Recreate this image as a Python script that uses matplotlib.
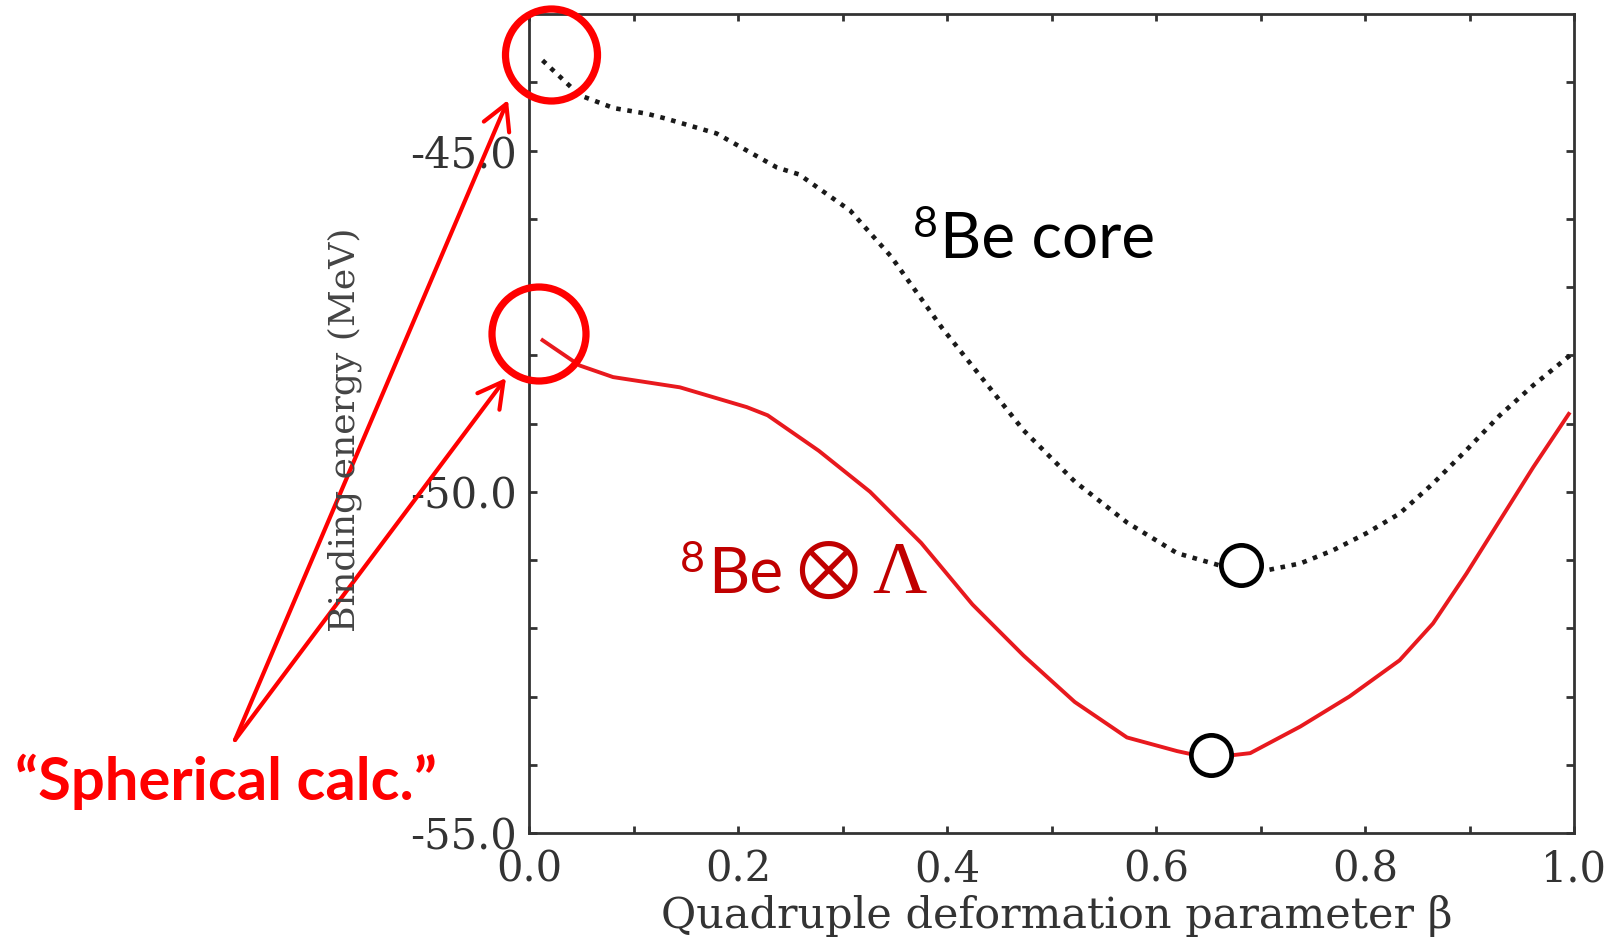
import matplotlib
matplotlib.use('Agg')
import matplotlib.pyplot as plt
from matplotlib.patches import Ellipse, FancyArrowPatch
from matplotlib.transforms import IdentityTransform
import numpy as np

# ---------------- data ----------------
core_beta = [0.0125, 0.048, 0.081, 0.112, 0.130, 0.179, 0.237, 0.258, 0.307, 0.346,
             0.395, 0.473, 0.522, 0.572, 0.620, 0.670, 0.706, 0.738, 0.769, 0.801,
             0.833, 0.865, 0.897, 0.929, 0.961, 0.998]
core_E = [-43.68, -44.19, -44.38, -44.46, -44.53, -44.75, -45.25, -45.35, -45.88, -46.55,
          -47.60, -49.10, -49.85, -50.45, -50.90, -51.12, -51.15, -51.05, -50.86, -50.61,
          -50.32, -49.88, -49.39, -48.88, -48.44, -47.98]

lam_beta = [0.0125, 0.048, 0.080, 0.144, 0.208, 0.228, 0.277, 0.326, 0.375, 0.424,
            0.473, 0.522, 0.572, 0.620, 0.650, 0.690, 0.738, 0.785, 0.833, 0.865,
            0.897, 0.929, 0.961, 0.995]
lam_E = [-47.78, -48.15, -48.32, -48.47, -48.76, -48.88, -49.40, -50.00, -50.75, -51.65,
         -52.40, -53.08, -53.60, -53.80, -53.90, -53.83, -53.44, -53.00, -52.47, -51.93,
         -51.20, -50.42, -49.64, -48.86]

min_beta = [0.681, 0.652]
min_E = [-51.08, -53.85]

xticks = [0.0, 0.2, 0.4, 0.6, 0.8, 1.0]
xtick_labels = ['0.0', '0.2', '0.4', '0.6', '0.8', '1.0']
yticks = [-55.0, -50.0, -45.0]
ytick_labels = ['-55.0', '-50.0', '-45.0']

xlabel = 'Quadruple deformation parameter β'
ylabel = 'Binding energy (MeV)'
annot_text = '\u201cSpherical calc.\u201d'

# ---------------- figure ----------------
W, H = 1606, 940
fig = plt.figure(figsize=(W / 100, H / 100), dpi=100)
fig.patch.set_facecolor('white')

ax = fig.add_axes([529.5 / W, (H - 833) / H, (1574 - 529.5) / W, (833 - 14) / H])

ax.plot(core_beta, core_E, color='#1a1a1a', lw=3.3, linestyle=(0, (1.0, 1.45)))
ax.plot(lam_beta, lam_E, color='#e8191e', lw=2.8, solid_joinstyle='round')
ax.plot(min_beta, min_E, 'o', ms=29, mfc='white', mec='black', mew=3.4, zorder=5, clip_on=False)

ax.set_xlim(0, 1)
ax.set_ylim(-55, -43)
ax.set_xticks(xticks)
ax.set_xticklabels(xtick_labels)
ax.set_xticks(np.arange(0.1, 1.0, 0.2), minor=True)
ax.set_yticks(yticks)
ax.set_yticklabels(ytick_labels)
ax.set_yticks(np.arange(-54, -43, 1.0), minor=True)

tick_col = '#333333'
ax.tick_params(axis='both', which='both', direction='in', top=True, right=True,
               color=tick_col, width=2.0)
ax.tick_params(axis='x', which='both', length=5)
ax.tick_params(axis='y', which='both', length=6)
ax.tick_params(axis='x', which='major', pad=11, labelsize=30, labelcolor=tick_col)
ax.tick_params(axis='y', which='major', pad=9, labelsize=30, labelcolor=tick_col)
for lab in ax.get_xticklabels() + ax.get_yticklabels():
    lab.set_family('DejaVu Serif')
for sp in ax.spines.values():
    sp.set_color(tick_col)
    sp.set_linewidth(2.0)

# axis labels
fig.text(1057 / W, (H - 928) / H, xlabel, family='DejaVu Serif', fontsize=31,
         color=tick_col, ha='center', va='baseline')
fig.text(345 / W, (H - 429.5) / H, ylabel, family='DejaVu Serif', fontsize=26,
         color='#444444', ha='center', va='center', rotation=90)

# curve labels
def ftxt(x, y_top, s, **kw):
    fig.text(x / W, (H - y_top) / H, s, ha='left', va='baseline', **kw)

ftxt(913, 237, '8', family='Lato', fontsize=31, color='black')
ftxt(940, 258, 'Be core', family='Lato', fontsize=46, color='black')

dred = '#c00000'
ftxt(680, 571.7, '8', family='Lato', fontsize=31, color=dred)
ftxt(708, 592.7, 'Be', family='Lato', fontsize=46, color=dred)
fig.text(828 / W, (H - 563) / H, '\u2297', family=['STIXGeneral', 'DejaVu Sans'],
         fontsize=56, color=dred, ha='center', va='center_baseline')
ftxt(872, 593, '\u039b', family='Liberation Serif', fontsize=54, color=dred)

# red annotation
red = '#ff0000'
ftxt(15, 800, annot_text, family='Lato', fontsize=43, fontweight='bold', color=red)

for cx, cy, r in [(551.5, 55, 46), (539, 334, 47)]:
    e = Ellipse((cx, H - cy), 2 * r, 2 * r, transform=IdentityTransform(),
                fill=False, edgecolor=red, lw=5.2, clip_on=False)
    fig.add_artist(e)

tail = (235, H - 740)
for tip in [(508, H - 100), (506, H - 378)]:
    arr = FancyArrowPatch(posA=tail, posB=tip, transform=IdentityTransform(),
                          arrowstyle='->,head_length=1.0,head_width=0.55',
                          mutation_scale=18, lw=3.0, color=red,
                          shrinkA=0, shrinkB=0, clip_on=False)
    fig.add_artist(arr)

fig.savefig('out.png', dpi=100, facecolor='white')
